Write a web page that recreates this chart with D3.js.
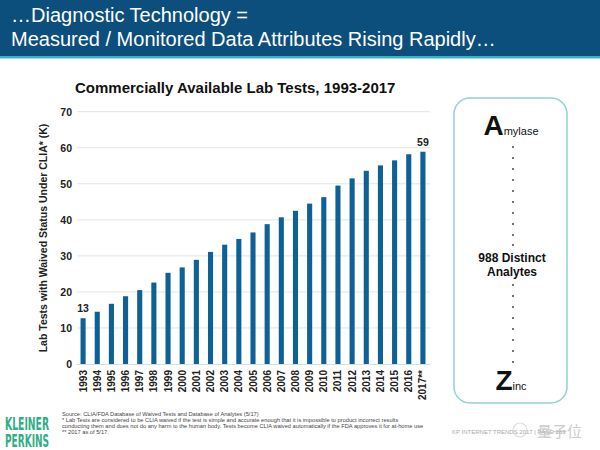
<!DOCTYPE html>
<html><head><meta charset="utf-8">
<script src="https://cdn.jsdelivr.net/npm/d3@7/dist/d3.min.js"></script>
<style>body{margin:0;background:#fff}svg{display:block}</style>
</head><body>
<script>
const years = ["1993","1994","1995","1996","1997","1998","1999","2000","2001","2002","2003","2004","2005","2006","2007","2008","2009","2010","2011","2012","2013","2014","2015","2016","2017**"];
const tests = [12.7,14.5,16.7,18.8,20.5,22.6,25.3,26.8,28.9,31.1,33.1,34.7,36.5,38.8,40.7,42.5,44.5,46.3,49.5,51.5,53.6,55.1,56.5,58.2,58.9];
const labeled = {"1993":"13","2017**":"59"};
const yTicks = [0,10,20,30,40,50,60,70];
const headerLines = ["…Diagnostic Technology =","Measured / Monitored Data Attributes Rising Rapidly…"];
const chartTitle = "Commercially Available Lab Tests, 1993-2017";
const yTitle = "Lab Tests with Waived Status Under CLIA* (K)";
const footnotes = ["Source: CLIA/FDA Database of Waived Tests and Database of Analytes (5/17)",
 "* Lab Tests are considered to be CLIA waived if the test is simple and accurate enough that it is impossible to product incorrect results",
 "conducting them and does not do any harm to the human body. Tests become CLIA waived automatically if the FDA approves it for at-home use",
 "** 2017 as of 5/17."];

const W=600,H=450;
const svg=d3.select("body").append("svg").attr("width",W).attr("height",H).style("font-family","'Liberation Sans',Arial,sans-serif");

// header
svg.append("rect").attr("x",0).attr("y",0).attr("width",W).attr("height",56).attr("fill","#0c4f7c");
svg.append("rect").attr("x",0).attr("y",56).attr("width",W).attr("height",2.5).attr("fill","#38b4c6");
svg.selectAll("text.hd").data(headerLines).join("text").attr("class","hd")
  .attr("x",11).attr("y",(d,i)=>22+i*24).attr("fill","#fff").attr("font-size",20).text(d=>d);

// chart
const x=d3.scaleBand().domain(years).range([76,430]).paddingInner(0.64).paddingOuter(0.32);
const y=d3.scaleLinear().domain([0,70]).range([364,111.7]);

svg.append("text").attr("x",75).attr("y",93).attr("font-size",15).attr("font-weight","bold").attr("fill","#111").text(chartTitle);

svg.append("g").selectAll("line").data(yTicks.filter(d=>d>0)).join("line")
  .attr("x1",77).attr("x2",430).attr("y1",d=>y(d)).attr("y2",d=>y(d)).attr("stroke","#e4e4e4").attr("stroke-width",1);

const ya=svg.append("g").attr("transform","translate(72,0)").call(d3.axisLeft(y).tickValues(yTicks).tickSize(0).tickPadding(0));
ya.select(".domain").remove();
ya.selectAll("text").attr("font-size",10.5).attr("font-weight","bold").attr("fill","#222").attr("font-family","'Liberation Sans',Arial,sans-serif");

svg.append("text").attr("transform","translate(47,238) rotate(-90)").attr("text-anchor","middle")
  .attr("font-size",10.5).attr("font-weight","bold").attr("fill","#222").text(yTitle);

svg.append("g").selectAll("rect").data(years).join("rect")
  .attr("x",d=>x(d)).attr("width",x.bandwidth()).attr("y",(d,i)=>y(tests[i])).attr("height",(d,i)=>y(0)-y(tests[i])).attr("fill","#0e6196");

svg.append("line").attr("x1",77).attr("x2",430).attr("y1",y(0)+0.5).attr("y2",y(0)+0.5).attr("stroke","#ddd");

const xa=svg.append("g").attr("transform",`translate(0,${y(0)})`).call(d3.axisBottom(x).tickSize(0).tickPadding(0));
xa.select(".domain").remove();
xa.selectAll("text").attr("transform","rotate(-90)").attr("text-anchor","end").attr("dy","0.35em").attr("x",-6).attr("y",0)
  .attr("font-size",10).attr("font-weight","bold").attr("fill","#222").attr("font-family","'Liberation Sans',Arial,sans-serif");

svg.append("g").selectAll("text").data(years.filter(d=>labeled[d])).join("text")
  .attr("x",d=>x(d)+x.bandwidth()/2).attr("y",d=>y(tests[years.indexOf(d)])-6).attr("text-anchor","middle")
  .attr("font-size",10.5).attr("font-weight","bold").attr("fill","#222").text(d=>labeled[d]);

// right panel
svg.append("rect").attr("x",454).attr("y",98).attr("width",113).attr("height",305).attr("rx",16)
  .attr("fill","#fff").attr("stroke","#93d0d8").attr("stroke-width",1.5);
const cx=511;
const a=svg.append("text").attr("x",cx).attr("y",135).attr("text-anchor","middle").attr("fill","#111").attr("font-weight","bold");
a.append("tspan").attr("font-size",28).text("A");
a.append("tspan").attr("font-size",11).attr("font-weight","normal").text("mylase");
const dotsTop=[147,158,169,180,191,202,213,224,235,245];
const dotsBot=[285,296,307,318,329,340,351,362];
svg.selectAll("circle.d").data(dotsTop.concat(dotsBot)).join("circle").attr("class","d")
  .attr("cx",513).attr("cy",d=>d).attr("r",1).attr("fill","#444");
svg.append("text").attr("x",512).attr("y",262).attr("text-anchor","middle").attr("font-size",12).attr("font-weight","bold").attr("fill","#111").text("988 Distinct");
svg.append("text").attr("x",512).attr("y",276).attr("text-anchor","middle").attr("font-size",12).attr("font-weight","bold").attr("fill","#111").text("Analytes");
const z=svg.append("text").attr("x",cx).attr("y",390).attr("text-anchor","middle").attr("fill","#111").attr("font-weight","bold");
z.append("tspan").attr("font-size",28).text("Z");
z.append("tspan").attr("font-size",11).attr("font-weight","normal").text("inc");

// footer
const kp=svg.append("g").attr("fill","#2fae84").attr("font-weight","bold")
  .attr("font-family","'DejaVu Sans Condensed','Liberation Sans Narrow',sans-serif");
kp.append("text").attr("x",5).attr("y",430).attr("font-size",17).attr("textLength",44).attr("lengthAdjust","spacingAndGlyphs").text("KLEINER");
kp.append("text").attr("x",5).attr("y",447).attr("font-size",17).attr("textLength",44).attr("lengthAdjust","spacingAndGlyphs").text("PERKINS");
svg.selectAll("text.fn").data(footnotes).join("text").attr("class","fn")
  .attr("x",62).attr("y",(d,i)=>416+i*6).attr("font-size",5.7).attr("fill","#444").text(d=>d);
svg.append("text").attr("x",452).attr("y",434).attr("font-size",6).attr("fill","#aaa").text("KP INTERNET TRENDS 2017  |  PAGE 263");
svg.append("circle").attr("cx",520).attr("cy",430).attr("r",7).attr("fill","none").attr("stroke","#ccc").attr("stroke-width",1.2).attr("opacity",0.7);
svg.append("text").attr("x",537).attr("y",437).attr("font-size",15).attr("fill","#bbb").attr("opacity",0.75)
  .attr("font-family","'Noto Sans CJK SC',sans-serif").text("量子位");
</script>
</body></html>
